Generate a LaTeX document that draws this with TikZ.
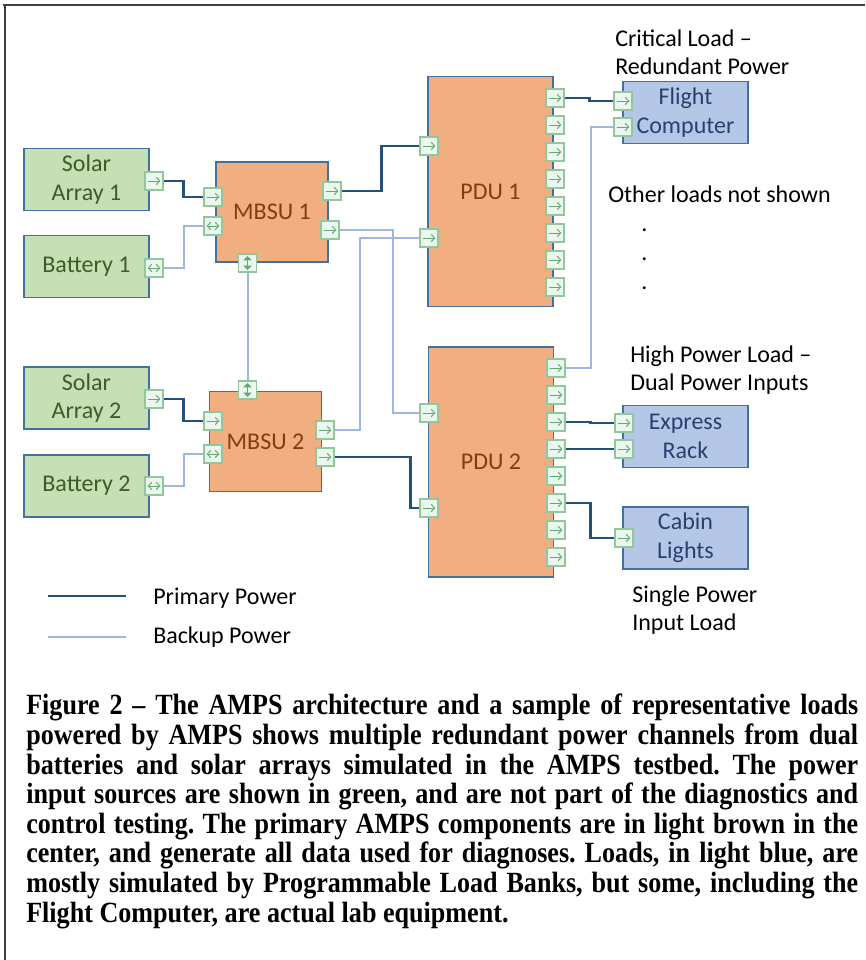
\documentclass[tikz,border=0pt]{standalone}
\usepackage{fontspec}
\setmainfont{Carlito}
\newfontfamily\captionserif[FakeStretch=0.89]{Liberation Serif}
\usetikzlibrary{arrows.meta}

\definecolor{srcfill}{HTML}{C5E0B4}
\definecolor{srctext}{HTML}{3D5C27}
\definecolor{edge}{HTML}{41719C}
\definecolor{mbsufill}{HTML}{F1AF81}
\definecolor{mbsutext}{HTML}{843C0C}
\definecolor{loadfill}{HTML}{B4C7E7}
\definecolor{loadtext}{HTML}{27406E}
\definecolor{portfill}{HTML}{EAF6EE}
\definecolor{portedge}{HTML}{92C79C}
\definecolor{glyphc}{HTML}{62A872}
\definecolor{primaryc}{HTML}{24507F}
\definecolor{backupc}{HTML}{9DB6E2}
\definecolor{framec}{HTML}{404040}

\newcommand\diagfont{\fontsize{18}{21.5}\selectfont}
\newcommand\capfont{\captionserif\bfseries\fontsize{22}{22.2}\selectfont}

\tikzset{
  box/.style={draw=edge, line width=1.3pt, align=center, font=\diagfont, inner sep=0pt},
  srcbox/.style={box, fill=srcfill, text=srctext, minimum width=93.75pt, minimum height=46.5pt},
  mbsubox/.style={box, fill=mbsufill, text=mbsutext, minimum width=84pt, minimum height=75pt},
  pdubox/.style={box, fill=mbsufill, text=mbsutext, minimum width=93.75pt, minimum height=172.5pt},
  loadbox/.style={box, fill=loadfill, text=loadtext, minimum width=93.75pt, minimum height=46.5pt},
  port/.style={draw=portedge, fill=portfill, line width=0.9pt, minimum size=13.5pt, inner sep=0pt},
  glyph/.style={draw=glyphc, line width=0.75pt},
  primary/.style={draw=primaryc, line width=2pt},
  backup/.style={draw=backupc, line width=1.5pt},
  note/.style={font=\diagfont, anchor=base west, inner sep=0pt},
  framerule/.style={draw=framec, line width=1.5pt},
  barb/.tip={Straight Barb[length=2.6pt,width=5.4pt]},
  tri/.tip={Triangle[length=3.2pt,width=6pt]},
}

% ports: one-way, two-way horizontal, two-way vertical
\newcommand\portR[2]{%
  \node[port] (#1) at (#2) {};
  \draw[glyph,-barb] ([xshift=-4.8pt]#1.center) -- ([xshift=4.8pt]#1.center);}
\newcommand\portLR[2]{%
  \node[port] (#1) at (#2) {};
  \draw[glyph,barb-barb] ([xshift=-4.8pt]#1.center) -- ([xshift=4.8pt]#1.center);}
\newcommand\portUD[2]{%
  \node[port] (#1) at (#2) {};
  \draw[glyph,line width=1.3pt,tri-tri] ([yshift=-5.2pt]#1.center) -- ([yshift=5.2pt]#1.center);}

\begin{document}
\begin{tikzpicture}[x=0.75pt,y=-0.75pt]
\useasboundingbox (0,0) rectangle (865,960);

% frame
\draw[framerule] (3,5) -- (865,5);
\draw[framerule] (5,5) -- (5,960);

% sources
\node[srcbox] (sa1) at (86.5,179.5) {Solar\\Array 1};
\node[srcbox] (bat1) at (86.5,266.5) {Battery 1};
\node[srcbox] (sa2) at (86.5,398) {Solar\\Array 2};
\node[srcbox] (bat2) at (86.5,486) {Battery 2};

% switching units
\node[mbsubox] (mbsu1) at (272,212) {MBSU 1};
\node[mbsubox] (mbsu2) at (265.5,441.5) {MBSU 2};

% distribution units
\node[pdubox] (pdu1) at (490.5,191.5) {PDU 1};
\node[pdubox] (pdu2) at (491,462) {PDU 2};

% loads
\node[loadbox] (fc) at (685.5,112.5) {Flight\\Computer};
\node[loadbox] (er) at (685.5,436.5) {Express\\Rack};
\node[loadbox] (cl) at (685.5,538) {Cabin\\Lights};

% source ports
\portR{sa1p}{154,181}
\portLR{b1p}{154,268}
\portR{sa2p}{154,399}
\portLR{b2p}{154,486}

% MBSU 1 ports
\portR{m1in}{213,197}
\portLR{m1bi}{213,226}
\portR{m1o1}{332,191}
\portR{m1o2}{330,230}
\portUD{m1dn}{247.5,263}

% MBSU 2 ports
\portUD{m2up}{247.5,390}
\portR{m2in}{213,421}
\portLR{m2bi}{213,454}
\portR{m2o1}{325,430}
\portR{m2o2}{325,457}

% PDU ports
\portR{p1i1}{429,146}
\portR{p1i2}{429,238}
\portR{p2i1}{429,413}
\portR{p2i2}{429,508}
\foreach \k in {1,...,8} {\portR{p1o\k}{555,{71+27*\k}}}
\foreach \k in {1,...,8} {\portR{p2o\k}{556,{341+27*\k}}}

% load ports
\portR{fc1}{623,101}
\portR{fc2}{623,127}
\portR{er1}{624,423}
\portR{er2}{624,449}
\portR{cl1}{624,538}

% source feeds
\draw[primary] (sa1p.east) -- ++(20,0) |- (m1in.west);
\draw[backup]  (b1p.east)  -- ++(20,0) |- (m1bi.west);
\draw[primary] (sa2p.east) -- ++(20,0) |- (m2in.west);
\draw[backup]  (b2p.east)  -- ++(20,0) |- (m2bi.west);
\draw[backup]  (m1dn.south) -- (m2up.north);

% MBSU to PDU
\draw[primary] (m1o1.east) -- ++(40,0) |- (p1i1.west);
\draw[backup]  (m1o2.east) -- ++(53,0) |- (p2i1.west);
\draw[backup]  (m2o1.east) -- ++(25,0) |- (p1i2.west);
\draw[primary] (m2o2.east) -- ++(76,0) |- (p2i2.west);

% PDU to loads
\draw[primary] (p1o1.east) -- ++(25,0) |- (fc1.west);
\draw[backup]  (p2o1.east) -- ++(25,0) |- (fc2.west);
\draw[primary] (p2o3.east) -- ++(25,0) |- (er1.west);
\draw[primary] (p2o4.east) -- ++(25,0) |- (er2.west);
\draw[primary] (p2o6.east) -- ++(25,0) |- (cl1.west);

% annotations
\node[note] (crit1) at (615,46) {Critical Load –};
\node[note] (crit2) at (615,74) {Redundant Power};
\node[note] (other) at (608,202) {Other loads not shown};
\node[note] (dot1) at (641,231) {.};
\node[note] (dot2) at (641,260) {.};
\node[note] (dot3) at (641,289) {.};
\node[note] (high1) at (630,362) {High Power Load –};
\node[note] (high2) at (630,390) {Dual Power Inputs};
\node[note] (single1) at (632,602) {Single Power};
\node[note] (single2) at (632,630) {Input Load};

% legend
\coordinate (lgpa) at (48,596);
\coordinate (lgpb) at (126,596);
\coordinate (lgba) at (48,637);
\coordinate (lgbb) at (126,637);
\draw[primary] (lgpa) -- (lgpb);
\draw[backup] (lgba) -- (lgbb);
\node[note] (lgpt) at (153,604) {Primary Power};
\node[note] (lgbt) at (153,643) {Backup Power};

% caption
\node[anchor=north west, inner sep=0pt, text width=624pt, align=justify, font=\capfont]
  (caption) at (26,694) {\frenchspacing\hyphenpenalty=10000
Figure 2 – The AMPS architecture and a sample of representative loads\linebreak
powered by AMPS shows multiple redundant power channels from dual\linebreak
batteries and solar arrays simulated in the AMPS testbed. The power\linebreak
input sources are shown in green, and are not part of the diagnostics and\linebreak
control testing. The primary AMPS components are in light brown in the\linebreak
center, and generate all data used for diagnoses. Loads, in light blue, are\linebreak
mostly simulated by Programmable Load Banks, but some, including the\linebreak
Flight Computer, are actual lab equipment.};
\end{tikzpicture}
\end{document}
